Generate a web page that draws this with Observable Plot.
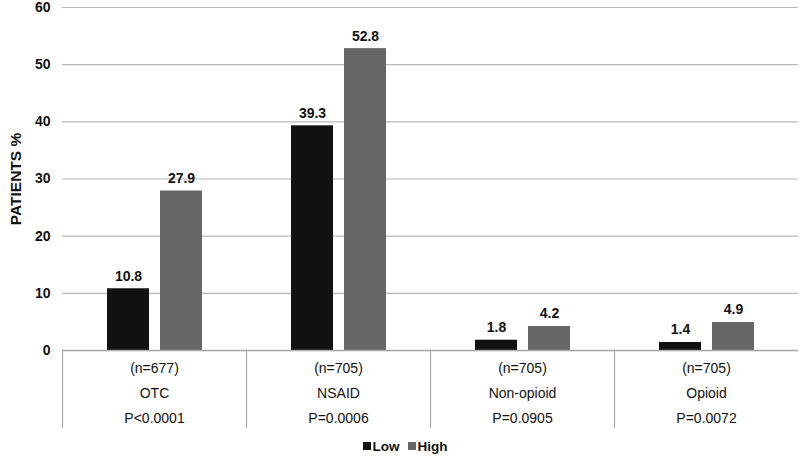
<!DOCTYPE html>
<html>
<head>
<meta charset="utf-8">
<script src="https://cdn.jsdelivr.net/npm/d3@7"></script>
<script src="https://cdn.jsdelivr.net/npm/@observablehq/plot@0.6"></script>
<style>
  html, body { margin: 0; padding: 0; background: #fff; }
  #chart { width: 800px; font-family: Arial, "Liberation Sans", sans-serif; }
  #legend { width: 800px; height: 25px; display: flex; justify-content: center; align-items: center;
            font: bold 13.5px Arial, "Liberation Sans", sans-serif; color: #111; padding-left: 10px; padding-top: 3px; box-sizing: border-box; }
  #legend .item { display: flex; align-items: center; margin: 0 4px; }
  #legend .sw { width: 8px; height: 8px; margin-right: 2px; display: inline-block; }
</style>
</head>
<body>
<div id="chart"></div>
<div id="legend"></div>
<script>
const categories = ["OTC", "NSAID", "Non-opioid", "Opioid"];
const nLabels = ["(n=677)", "(n=705)", "(n=705)", "(n=705)"];
const pLabels = ["P<0.0001", "P=0.0006", "P=0.0905", "P=0.0072"];
const seriesNames = ["Low", "High"];
const lowValues = [10.8, 39.3, 1.8, 1.4];
const highValues = [27.9, 52.8, 4.2, 4.9];
const yTicks = [0, 10, 20, 30, 40, 50, 60];
const yLabel = "PATIENTS %";
const seriesColors = ["#111111", "#666666"];

const bars = [];
categories.forEach((c, i) => {
  bars.push({category: c, series: "Low", value: lowValues[i]});
  bars.push({category: c, series: "High", value: highValues[i]});
});
const table = categories.map((c, i) => ({category: c, n: nLabels[i], p: pLabels[i]}));

const font = 'Arial, "Liberation Sans", sans-serif';

const chart = Plot.plot({
  width: 800,
  height: 432,
  marginTop: 7,
  marginBottom: 82,
  marginLeft: 62,
  marginRight: 2,
  style: {fontFamily: font, fontSize: "14px", color: "#111", background: "#fff"},
  fx: {domain: categories, padding: 0, axis: null},
  x: {domain: seriesNames, paddingInner: 0.21, paddingOuter: 0.84, axis: null},
  y: {domain: [0, 60]},
  color: {domain: seriesNames, range: seriesColors},
  marks: [
    Plot.gridY(yTicks, {stroke: "#b8b8b8", strokeOpacity: 1, strokeWidth: 1.2}),
    Plot.axisY(yTicks, {tickSize: 0, tickPadding: 12, fontWeight: "bold", fontSize: 14,
      label: yLabel, labelAnchor: "center", labelOffset: 53, labelArrow: "none"}),
    Plot.barY(bars, {fx: "category", x: "series", y: "value", fill: "series"}),
    Plot.text(bars, {fx: "category", x: "series", y: "value", text: d => d.value.toFixed(1),
      dy: -8, lineAnchor: "bottom", fontWeight: "bold", fontSize: 14, fill: "#111"}),
    Plot.ruleY([0], {stroke: "#a8a8a8", strokeWidth: 1.5}),
    Plot.frame({anchor: "left", insetTop: 343, insetBottom: -77, stroke: "#a8a8a8", strokeWidth: 1.2}),
    Plot.text(table, {fx: "category", frameAnchor: "bottom", text: "n", dy: 18, lineAnchor: "middle", fontSize: 14, fill: "#111"}),
    Plot.text(table, {fx: "category", frameAnchor: "bottom", text: "category", dy: 43, lineAnchor: "middle", fontSize: 14, fill: "#111"}),
    Plot.text(table, {fx: "category", frameAnchor: "bottom", text: "p", dy: 68, lineAnchor: "middle", fontSize: 14, fill: "#111"})
  ]
});
d3.select(chart).selectAll("text").attr("fill", "#111");
d3.select(chart).selectAll("text")
  .filter(function() { return this.textContent.trim() === yLabel; })
  .attr("font-size", 15.5).attr("font-weight", "bold")
  .style("font-size", "15.5px").style("font-weight", "bold");
document.getElementById("chart").appendChild(chart);

const legend = document.getElementById("legend");
seriesNames.forEach((s, i) => {
  const item = document.createElement("span");
  item.className = "item";
  const sw = document.createElement("span");
  sw.className = "sw";
  sw.style.background = seriesColors[i];
  item.appendChild(sw);
  item.appendChild(document.createTextNode(s));
  legend.appendChild(item);
});
</script>
</body>
</html>
